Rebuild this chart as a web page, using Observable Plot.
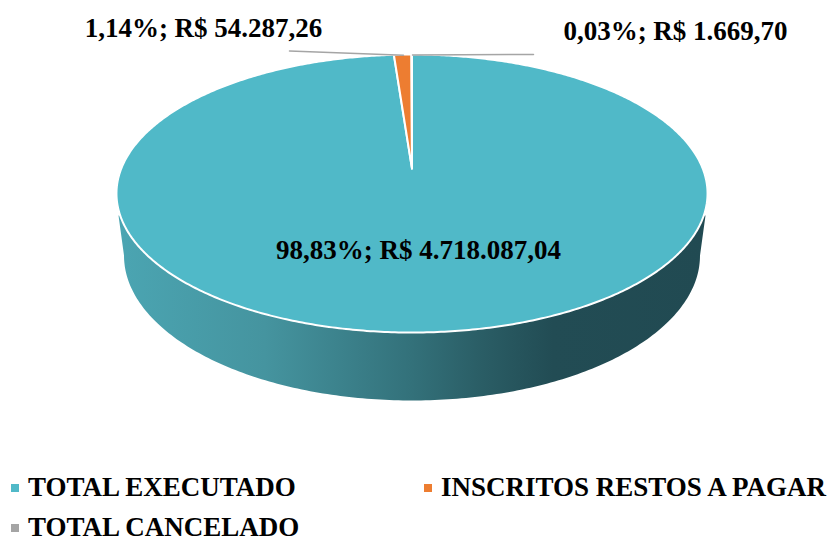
<!DOCTYPE html>
<html><head><meta charset="utf-8">
<script src="https://cdn.jsdelivr.net/npm/d3@7"></script>
<script src="https://cdn.jsdelivr.net/npm/@observablehq/plot@0.6"></script>
<style>
html,body{margin:0;padding:0;background:#fff;overflow:hidden}
#chart{position:relative;width:829px;height:542px;font-family:"Liberation Serif",serif;font-weight:bold;color:#000}
#chart svg{display:block;background:#fff}
.li{position:absolute;font-size:27px;line-height:22px;white-space:nowrap}
.li i{position:absolute;width:8px;height:8px;left:-17px;top:8px}
</style></head><body><div id="chart"></div>
<script>
const categories = ["TOTAL EXECUTADO", "INSCRITOS RESTOS A PAGAR", "TOTAL CANCELADO"];
const values = [4718087.04, 54287.26, 1669.70];
const percents = ["98,83%", "1,14%", "0,03%"];
const moneyLabels = ["R$ 4.718.087,04", "R$ 54.287,26", "R$ 1.669,70"];
const colors = ["#50B9C8", "#ED7D31", "#A5A5A5"];

const W = 829, H = 470;
// projective view of the disc
const cx = 411.5, apexY = 168, k = 0.18, A = 290.7, B = 134.5;
const proj = t => {
  const w = 1 + k * Math.cos(t);
  return {x: cx + A * Math.sin(t) / w, y: apexY - B * Math.cos(t) / w};
};
const total = d3.sum(values);
let acc = 0;
const slices = values.map(v => {
  const a0 = acc / total * 2 * Math.PI; acc += v;
  const a1 = acc / total * 2 * Math.PI;
  const n = Math.max(2, Math.ceil((a1 - a0) / 0.01));
  const pts = [{x: cx, y: apexY}];
  for (let i = 0; i <= n; i++) pts.push(proj(a0 + (a1 - a0) * i / n));
  pts.push({x: cx, y: apexY});
  return pts;
});
// side wall silhouette
const wall = [{x: 118, y: 215}];
for (let i = 0; i <= 200; i++) {
  const t = Math.PI * i / 200;
  wall.push({x: cx - 288 * Math.cos(t), y: 255 + 145 * Math.sin(t)});
}
wall.push({x: 705, y: 215});
wall.push({x: 118, y: 215});

const wallGradient = () => {
  const defs = d3.create("svg:defs");
  const g = defs.append("linearGradient").attr("id", "wallGrad");
  [[0, "#4BA5B2"], [0.25, "#45949F"], [0.5, "#33717A"], [0.62, "#2A5D65"], [0.74, "#224C54"], [1, "#214A52"]]
    .forEach(([o, c]) => g.append("stop").attr("offset", o).attr("stop-color", c));
  return defs.node();
};

const leaders = [
  [{x: 289, y: 50.5}, {x: 403, y: 54.7}],
  [{x: 412, y: 54.5}, {x: 533, y: 54}]
];
const labelPos = [
  {x: 418, y: 250}, {x: 203, y: 28}, {x: 675, y: 31}
];
const labels = labelPos.map((p, i) => ({...p, text: `${percents[i]}; ${moneyLabels[i]}`}));

const svg = Plot.plot({
  width: W, height: H, margin: 0,
  x: {domain: [0, W], range: [0, W], axis: null},
  y: {domain: [H, 0], range: [H, 0], axis: null},
  marks: [
    wallGradient,
    Plot.line(wall, {x: "x", y: "y", fill: "url(#wallGrad)", stroke: "none"}),
    ...slices.map((s, i) => Plot.line(s, {x: "x", y: "y", fill: colors[i], stroke: "#fff", strokeWidth: 2, strokeLinejoin: "round"})),
    ...leaders.map(l => Plot.line(l, {x: "x", y: "y", stroke: "#A5A5A5", strokeWidth: 1.5})),
    Plot.text(labels, {x: "x", y: "y", text: "text", fontSize: 27, fontWeight: "bold", fontFamily: "Liberation Serif", fill: "#000", lineAnchor: "middle"})
  ]
});
const root = document.getElementById("chart");
root.appendChild(svg);
const legendPos = [[28, 476], [441, 476], [28, 516]];
categories.forEach((c, i) => {
  const d = document.createElement("div");
  d.className = "li";
  d.style.left = legendPos[i][0] + "px";
  d.style.top = legendPos[i][1] + "px";
  d.textContent = c;
  const m = document.createElement("i");
  m.style.background = colors[i];
  d.appendChild(m);
  root.appendChild(d);
});
</script></body></html>
